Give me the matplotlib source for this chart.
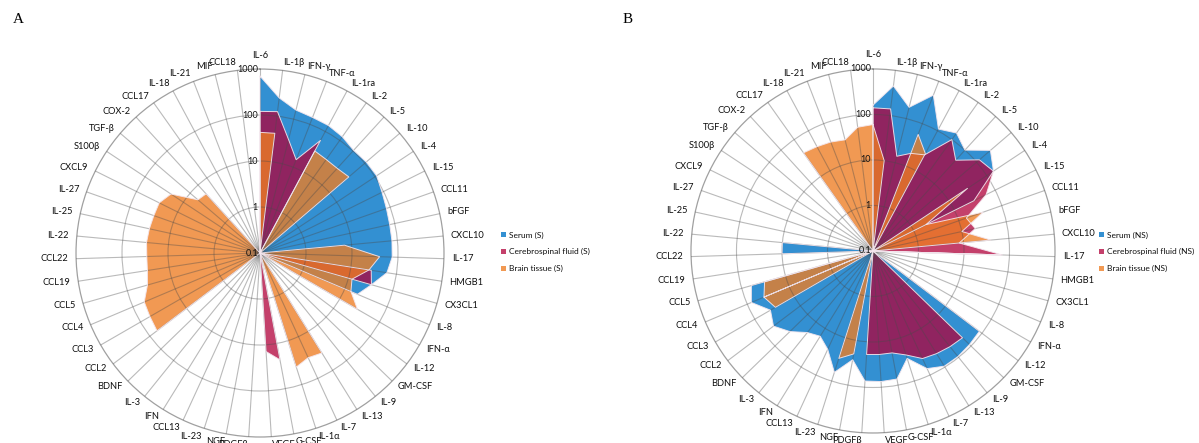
import numpy as np
import matplotlib.pyplot as plt
from matplotlib.patches import Patch

plt.rcParams['font.family'] = ['Lato', 'DejaVu Sans']

labels = ['IL-6', 'IL-1β', 'IFN-γ', 'TNF-α', 'IL-1ra', 'IL-2', 'IL-5', 'IL-10', 'IL-4', 'IL-15',
          'CCL11', 'bFGF', 'CXCL10', 'IL-17', 'HMGB1', 'CX3CL1', 'IL-8', 'IFN-α', 'IL-12', 'GM-CSF',
          'IL-9', 'IL-13', 'IL-7', 'IL-1α', 'G-CSF', 'VEGF', 'PDGFβ', 'NGF', 'IL-23', 'CCL13',
          'IFN', 'IL-3', 'BDNF', 'CCL2', 'CCL3', 'CCL4', 'CCL5', 'CCL19', 'CCL22', 'IL-22',
          'IL-25', 'IL-27', 'CXCL9', 'S100β', 'TGF-β', 'COX-2', 'CCL17', 'IL-18', 'IL-21', 'MIF', 'CCL18']

# panel A (S)
serum_s = [700, 250, 160, 145, 140, 125, 105, 110, 110, 92,
           82, 77, 76, 75, 62, 33, 20, 0, 0, 0,
           0, 0, 0, 0, 0, 0, 0, 0, 0, 0,
           0, 0, 0, 0, 0, 0, 0, 0, 0, 0,
           0, 0, 0, 0, 0, 0, 0, 0, 0, 0, 0]
csf_s = [120, 125, 35, 15, 60, 0, 0, 0, 0, 0,
         0, 0, 0, 0, 28, 33, 0, 0, 0, 0,
         0, 0, 0, 0, 23, 14, 0, 0, 0, 0,
         0, 0, 0, 0, 0, 0, 0, 0, 0, 0,
         0, 0, 0, 0, 0, 0, 0, 0, 0, 0, 0]
brain_s = [42, 42, 0, 0, 33, 31, 31, 35, 0, 0,
           0, 0, 7, 40, 25, 12, 14, 28, 0, 0,
           0, 36, 32, 40, 0, 0, 0, 0, 0, 0,
           0, 0, 0, 64, 58, 54, 35, 30, 29, 30,
           29, 28, 28, 21, 6, 5.5, 0, 0, 0, 0, 0]

# panel B (NS)
serum_ns = [160, 450, 180, 470, 110, 150, 100, 250, 150, 30,
            0, 0, 0, 65, 0, 0, 0, 0, 85, 90,
            95, 95, 70, 30, 73, 75, 73, 27, 63, 24,
            16, 20, 35, 55, 40, 80, 60, 0, 10, 10,
            0, 0, 0, 0, 0, 0, 0, 0, 0, 0, 0]
csf_ns = [140, 140, 14, 20, 25, 100, 50, 120, 150, 60,
          15, 20, 8, 70, 0, 0, 0, 0, 0, 55,
          50, 45, 40, 25, 19, 19, 19, 0, 0, 0,
          0, 0, 0, 0, 0, 40, 0, 0, 0, 0,
          0, 0, 0, 0, 0, 0, 0, 0, 0, 0, 0]
brain_ns = [60, 10, 0, 56, 27, 0, 0, 0, 31, 2,
            37, 10, 40, 0, 0, 0, 0, 0, 0, 0,
            0, 0, 0, 0, 0, 0, 0, 20, 30, 0,
            0, 0, 0, 0, 30, 40, 30, 0, 0, 0,
            0, 0, 0, 0, 0, 0, 44, 40, 37, 33, 55]

series_names = ['Serum', 'Cerebrospinal fluid', 'Brain tissue']
colors = ['#3390D2', '#B0003A', '#EE7D22']
alphas = [1.0, 0.75, 0.78]

n = len(labels)
theta = np.arange(n) * 2 * np.pi / n


def radar(ax, data, tag):
    ax.set_theta_zero_location('N')
    ax.set_theta_direction(-1)
    ax.set_rscale('log')
    ax.set_rlim(0.1, 1000)
    t = np.append(theta, theta[0])
    for vals, c, a in zip(data, colors, alphas):
        r = np.maximum(np.array(vals, float), 0.1)
        r = np.append(r, r[0])
        ax.fill(t, r, color=c, alpha=a, lw=0, zorder=2)
        ax.plot(t, r, color='#F4E6EE', lw=0.7, alpha=0.9, zorder=3)
    ax.set_xticks(theta)
    ax.set_xticklabels([])
    ax.set_yticks([1, 10, 100])
    ax.set_yticklabels([])
    ax.grid(True, color='#4A4A4A', lw=0.8, alpha=0.38, zorder=4)
    ax.set_axisbelow(False)
    ax.spines['polar'].set_color('#A0A0A0')
    ax.spines['polar'].set_linewidth(0.9)
    for v, s in zip([0.1, 1, 10, 100, 1000], ['0.1', '1', '10', '100', '1000']):
        ax.annotate(s, (0, v), xytext=(-1.5, 0), textcoords='offset points',
                    ha='right', va='center', fontsize=6.5, color='#111111', zorder=6,
                    annotation_clip=False)
    # category names just outside the outer ring
    for th, lab in zip(theta, labels):
        sx, cy = np.sin(th), np.cos(th)
        if abs(sx) < 0.02:
            ha, extra = 'center', 4.3
        elif sx > 0:
            ha, extra = 'left', 0
        else:
            ha, extra = 'right', 0
        ax.annotate(lab, (th, 1000), xytext=(5.6 * sx, 5.8 * cy + extra),
                    textcoords='offset points', ha=ha, va='center',
                    fontsize=6.7, color='#0F0F0F', annotation_clip=False)
    handles = [Patch(facecolor=c, alpha=a) for c, a in zip(colors, alphas)]
    names = ['%s (%s)' % (s, tag) for s in series_names]
    return handles, names


fig = plt.figure(figsize=(11.99, 4.43), dpi=100)
axA = fig.add_axes([0.0634, 0.0135, 0.3069, 0.8307], projection='polar')
axB = fig.add_axes([0.5763, 0.0226, 0.3036, 0.8217], projection='polar')

hA, nA = radar(axA, [serum_s, csf_s, brain_s], 'S')
hB, nB = radar(axB, [serum_ns, csf_ns, brain_ns], 'NS')

leg_kw = dict(loc='upper left', frameon=False, fontsize=6.0, handlelength=0.55,
              handleheight=0.55, handletextpad=0.4, labelspacing=1.15, borderaxespad=0,
              labelcolor='#0F0F0F')
fig.legend(hA, nA, bbox_to_anchor=(0.415, 0.485), **leg_kw)
fig.legend(hB, nB, bbox_to_anchor=(0.914, 0.485), **leg_kw)

fig.text(0.011, 0.955, 'A', family=['Liberation Serif', 'DejaVu Serif'], fontsize=11, va='center')
fig.text(0.519, 0.955, 'B', family=['Liberation Serif', 'DejaVu Serif'], fontsize=11, va='center')

fig.savefig('out.png', dpi=100)
